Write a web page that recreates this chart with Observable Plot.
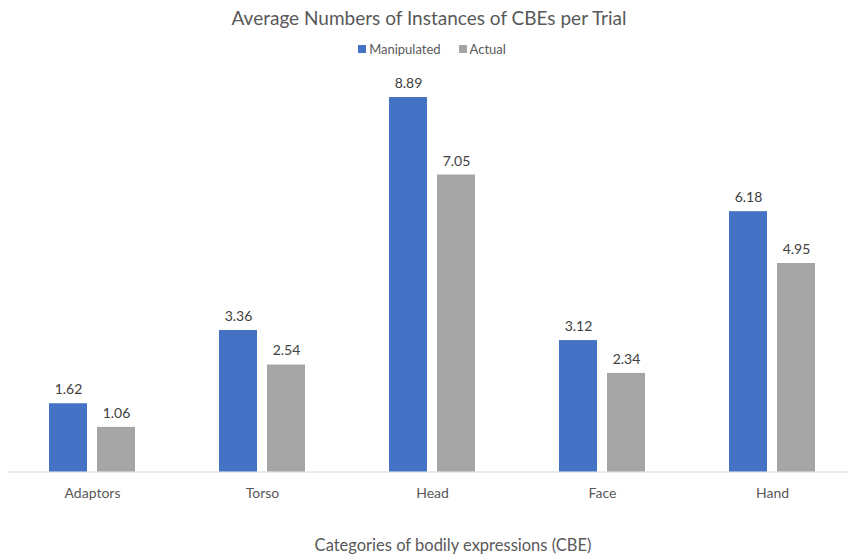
<!DOCTYPE html>
<html>
<head>
<meta charset="utf-8">
<script src="https://cdn.jsdelivr.net/npm/d3@7"></script>
<script src="https://cdn.jsdelivr.net/npm/@observablehq/plot@0.6"></script>
<style>
  body { margin: 0; background: #fff; font-family: Lato, "Open Sans", sans-serif; }
  #wrap { width: 848px; height: 556px; position: relative; overflow: hidden; }
  .title { height: 36px; line-height: 36px; text-align: center; font-size: 19px; font-weight: 400; color: #595959; padding-left: 10px; }
  .legend { height: 26px; display: flex; justify-content: center; align-items: center; font-size: 13px; color: #595959; padding-left: 16px; }
  .legend .item { display: flex; align-items: center; margin: 0 9px; }
  .legend .sw { width: 8px; height: 8px; margin-right: 3px; }
  .caption { height: 40px; line-height: 40px; text-align: center; font-size: 16.5px; color: #595959; padding-left: 58px; }
  svg { display: block; }
</style>
</head>
<body>
<div id="wrap"></div>
<script>
// Average number of CBE instances per trial, by category
const categories = ["Adaptors", "Torso", "Head", "Face", "Hand"];
const series = ["Manipulated", "Actual"];
const manipulated = [1.62, 3.36, 8.89, 3.12, 6.18];
const actual = [1.06, 2.54, 7.05, 2.34, 4.95];
const colors = ["#4472C4", "#A5A5A5"];

const titleText = "Average Numbers of Instances of CBEs per Trial";
const xTitle = "Categories of bodily expressions (CBE)";

const rows = categories.flatMap((c, i) => [
  {category: c, series: series[0], value: manipulated[i]},
  {category: c, series: series[1], value: actual[i]}
]);

const wrap = document.getElementById("wrap");

const title = document.createElement("div");
title.className = "title";
title.textContent = titleText;
wrap.appendChild(title);

const legend = document.createElement("div");
legend.className = "legend";
series.forEach((s, i) => {
  const item = document.createElement("span");
  item.className = "item";
  const sw = document.createElement("span");
  sw.className = "sw";
  sw.style.background = colors[i];
  const lab = document.createElement("span");
  lab.textContent = s;
  item.appendChild(sw);
  item.appendChild(lab);
  legend.appendChild(item);
});
wrap.appendChild(legend);

const chart = Plot.plot({
  width: 848,
  height: 463,
  marginTop: 30.4,
  marginBottom: 53.5,
  marginLeft: 0,
  marginRight: 0,
  style: {fontFamily: "Lato, 'Open Sans', sans-serif", background: "transparent", overflow: "hidden"},
  fx: {domain: categories, range: [6.5, 856.5], padding: 0, label: null},
  x: {domain: series, range: [41.5, 129.5], paddingInner: 0.204, paddingOuter: 0, axis: null},
  y: {domain: [0, 9], axis: null},
  color: {domain: series, range: colors},
  marks: [
    Plot.ruleY([0], {stroke: "#d9d9d9", strokeWidth: 1}),
    Plot.barY(rows, {fx: "category", x: "series", y: "value", fill: "series"}),
    Plot.text(rows, {
      fx: "category", x: "series", y: "value",
      text: d => d.value.toFixed(2),
      dy: -14, fontSize: 14, fill: "#404040"
    }),
    Plot.axisFx({anchor: "bottom", tickSize: 0, tickPadding: 16, label: null, fontSize: 14, color: "#595959"})
  ]
});
wrap.appendChild(chart);

const caption = document.createElement("div");
caption.className = "caption";
caption.textContent = xTitle;
wrap.appendChild(caption);
</script>
</body>
</html>
